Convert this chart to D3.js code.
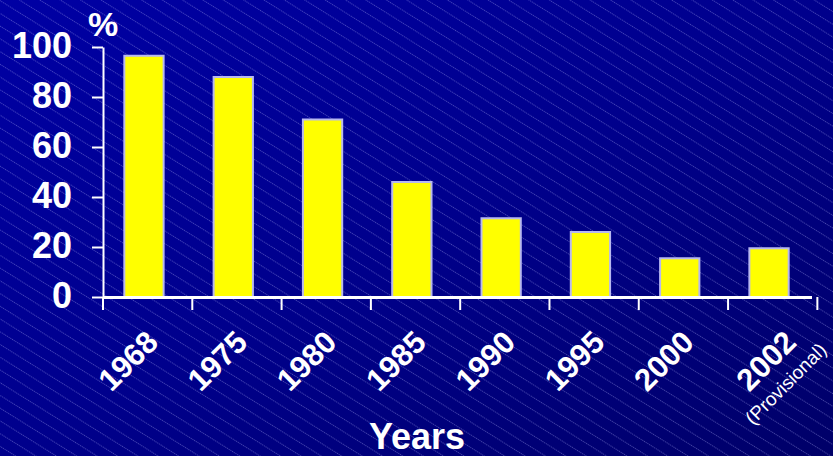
<!DOCTYPE html>
<html>
<head>
<meta charset="utf-8">
<script src="https://cdn.jsdelivr.net/npm/d3@7"></script>
<style>
  html, body { margin: 0; padding: 0; background: #000088; }
  svg { display: block; }
  text { font-family: "Liberation Sans", Arial, sans-serif; fill: #ffffff; }
</style>
</head>
<body>
<svg id="chart" width="833" height="456"></svg>
<script>
// Share (%) by year
const years = ["1968", "1975", "1980", "1985", "1990", "1995", "2000", "2002"];
const values = [96.5, 88, 71, 46, 31.5, 26, 15.5, 19.5];
const notes = ["", "", "", "", "", "", "", "(Provisional)"];
const yTicks = [0, 20, 40, 60, 80, 100];

const W = 833, H = 456;
const margin = { left: 103, right: 21, top: 47, bottom: 159 };

const svg = d3.select("#chart");
const defs = svg.append("defs");

// Background: deep blue gradient with fine diagonal hatching
const grad = defs.append("linearGradient")
  .attr("id", "bg").attr("x1", "0").attr("y1", "0").attr("x2", "1").attr("y2", "1");
grad.append("stop").attr("offset", "0").attr("stop-color", "#0000a4");
grad.append("stop").attr("offset", "0.5").attr("stop-color", "#00008c");
grad.append("stop").attr("offset", "1").attr("stop-color", "#000068");

const hatch = defs.append("pattern")
  .attr("id", "hatch")
  .attr("patternUnits", "userSpaceOnUse")
  .attr("width", 12).attr("height", 10.8)
  .attr("patternTransform", "rotate(32)");
hatch.append("line")
  .attr("x1", 0).attr("x2", 12).attr("y1", 0.5).attr("y2", 0.5)
  .attr("stroke", "#a8a8f0").attr("stroke-opacity", 0.45)
  .attr("stroke-width", 0.9).attr("stroke-dasharray", "1.2,0.8");

svg.append("rect").attr("width", W).attr("height", H).attr("fill", "url(#bg)");
svg.append("rect").attr("width", W).attr("height", H).attr("fill", "url(#hatch)");

const x = d3.scaleBand()
  .domain(years)
  .range([margin.left, W - margin.right])
  .paddingInner(0.56).paddingOuter(0.25);

const y = d3.scaleLinear()
  .domain([0, 100])
  .range([H - margin.bottom, margin.top]);

const y0 = y(0);

// Bars
svg.append("g").selectAll("rect")
  .data(years.map((yr, i) => ({ yr, v: values[i] })))
  .join("rect")
  .attr("x", d => x(d.yr) - 1)
  .attr("width", x.bandwidth())
  .attr("y", d => y(d.v))
  .attr("height", d => y0 - y(d.v))
  .attr("fill", "#ffff00")
  .attr("stroke", "#b8b8f0")
  .attr("stroke-width", 2);

// Y axis
const yAxis = svg.append("g")
  .attr("transform", `translate(${margin.left},0)`)
  .call(d3.axisLeft(y).tickValues(yTicks).tickSize(11).tickPadding(20).tickSizeOuter(0));
yAxis.select(".domain").attr("stroke", "#ffffff").attr("stroke-width", 2);
yAxis.selectAll(".tick line").attr("stroke", "#ffffff").attr("stroke-width", 2);
yAxis.selectAll(".tick text")
  .attr("font-size", 36).attr("font-weight", "bold")
  .attr("font-family", "Liberation Sans, Arial, sans-serif")
  .attr("fill", "#ffffff")
  .attr("dy", "0.28em");

// X axis: baseline with ticks at category boundaries
const step = x.step();
const bounds = d3.range(years.length + 1).map(i => margin.left + i * step);
const xAxis = svg.append("g");
xAxis.append("line")
  .attr("x1", margin.left).attr("x2", W - margin.right)
  .attr("y1", y0 + 0.5).attr("y2", y0 + 0.5)
  .attr("stroke", "#ffffff").attr("stroke-width", 3);
xAxis.selectAll("line.tk")
  .data(bounds)
  .join("line").attr("class", "tk")
  .attr("x1", d => d).attr("x2", d => d)
  .attr("y1", y0).attr("y2", y0 + 13)
  .attr("stroke", "#ffffff").attr("stroke-width", 2);

// Rotated year labels
const labels = svg.append("g").selectAll("g")
  .data(years.map((yr, i) => ({ yr, note: notes[i] })))
  .join("g")
  .attr("transform", d => {
    const cx = x(d.yr) + x.bandwidth() / 2;
    const shift = d.note ? 28 : 15;
    return `translate(${cx + shift},${y0 + 47}) rotate(-45)`;
  });
labels.append("text")
  .attr("text-anchor", "end")
  .attr("font-size", 31).attr("font-weight", "bold")
  .text(d => d.yr);
labels.filter(d => d.note)
  .append("text")
  .attr("text-anchor", "end")
  .attr("x", 16).attr("y", 26)
  .attr("font-size", 19)
  .text(d => d.note);

// Axis titles
svg.append("text")
  .attr("x", 103).attr("y", 36)
  .attr("text-anchor", "middle")
  .attr("font-size", 34).attr("font-weight", "bold")
  .text("%");

svg.append("text")
  .attr("x", 417).attr("y", 449)
  .attr("text-anchor", "middle")
  .attr("font-size", 36).attr("font-weight", "bold")
  .text("Years");
</script>
</body>
</html>
